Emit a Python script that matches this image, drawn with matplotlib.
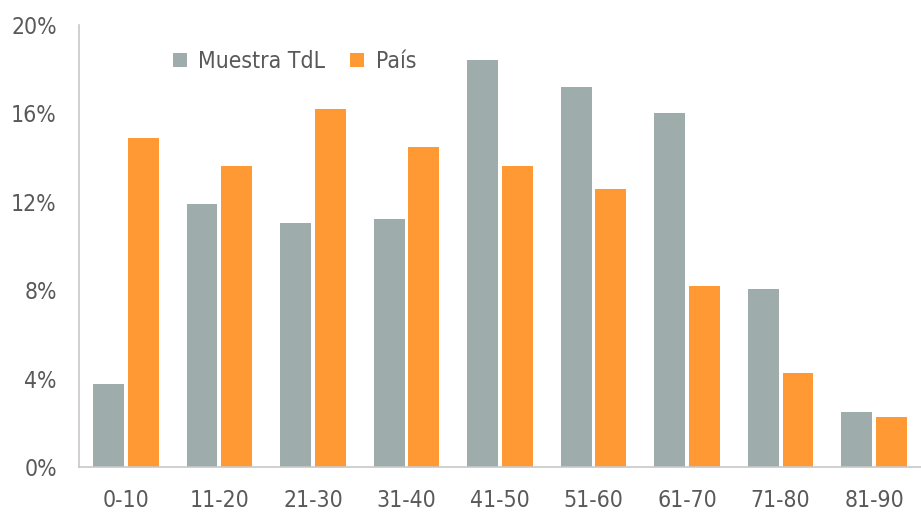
import matplotlib.pyplot as plt
import numpy as np

plt.rcParams['font.family'] = ['DejaVu Sans']
plt.rcParams['font.stretch'] = 'condensed'

categories = ['0-10', '11-20', '21-30', '31-40', '41-50', '51-60', '61-70', '71-80', '81-90']
muestra = [3.75, 11.9, 11.05, 11.2, 18.4, 17.2, 16.0, 8.05, 2.5]
pais = [14.9, 13.6, 16.2, 14.5, 13.6, 12.6, 8.2, 4.25, 2.25]
yticks = [0, 4, 8, 12, 16, 20]
ytick_labels = ['0%', '4%', '8%', '12%', '16%', '20%']

gray = '#9eadac'
orange = '#ff9933'
text_color = '#595959'

fig = plt.figure(figsize=(9.21, 5.14), dpi=100)
ax = fig.add_axes([0.0858, 0.0914, 0.9142, 0.86])

x = np.arange(len(categories))
w = 0.33
ax.bar(x - 0.185, muestra, w, color=gray, label='Muestra TdL')
ax.bar(x + 0.185, pais, w, color=orange, label='País')

ax.set_xlim(-0.5, len(categories) - 0.5)
ax.set_ylim(0, 20)
ax.set_yticks(yticks)
ax.set_yticklabels(ytick_labels)
ax.set_xticks(x)
ax.set_xticklabels(categories)
ax.tick_params(length=0, labelsize=16.5, colors=text_color, pad=16)
ax.tick_params(axis='y', pad=16)

for s in ['top', 'right']:
    ax.spines[s].set_visible(False)
ax.spines['left'].set_color('#c8c8c8')
ax.spines['bottom'].set_color('#c8c8c8')
ax.spines['left'].set_linewidth(1.2)
ax.spines['bottom'].set_linewidth(1.2)

leg = ax.legend(loc='upper left', bbox_to_anchor=(0.087, 0.99), ncol=2, frameon=False,
                fontsize=16.5, handlelength=0.6, handleheight=0.6, handletextpad=0.5,
                columnspacing=1.1)
for t in leg.get_texts():
    t.set_color(text_color)

fig.savefig('out.png', dpi=100)
